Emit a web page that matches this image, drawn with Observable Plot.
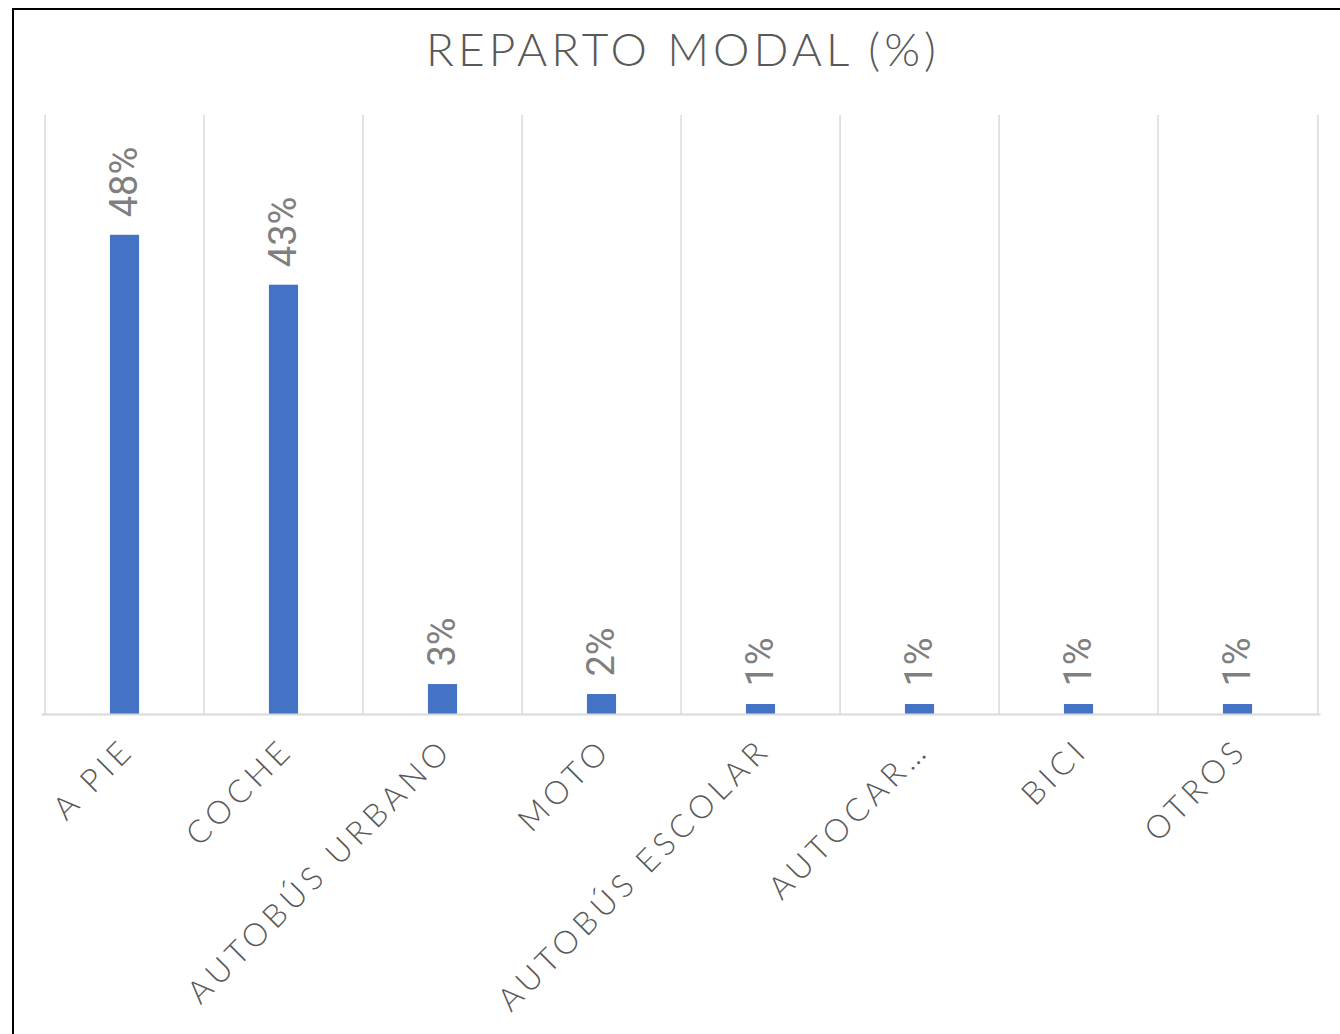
<!DOCTYPE html>
<html>
<head>
<meta charset="utf-8">
<script src="https://cdn.jsdelivr.net/npm/d3@7"></script>
<script src="https://cdn.jsdelivr.net/npm/@observablehq/plot@0.6"></script>
<style>
  html, body { margin: 0; padding: 0; background: #fff; }
  #wrap { position: relative; width: 1340px; height: 1034px; overflow: hidden; }
  #frame { position: absolute; left: 12px; top: 8px; width: 1400px; height: 1100px;
           border-top: 2px solid #000; border-left: 2px solid #000; pointer-events: none; }
  #title { position: absolute; left: 0; width: 1366px; top: 21px; text-align: center;
           font-family: Lato, "Open Sans", sans-serif; font-weight: 300; font-size: 46px;
           letter-spacing: 4px; color: #595959; line-height: 1.2; }
  #chart { position: absolute; left: 0; top: 95px; }
</style>
</head>
<body>
<div id="wrap">
  <div id="title">REPARTO MODAL (%)</div>
  <div id="chart"></div>
  <div id="frame"></div>
</div>
<script>
const categories = ["A PIE", "COCHE", "AUTOBÚS URBANO", "MOTO", "AUTOBÚS ESCOLAR", "AUTOCAR…", "BICI", "OTROS"];
const values = [48, 43, 3, 2, 1, 1, 1, 1];
const valueLabels = ["48%", "43%", "3%", "2%", "1%", "1%", "1%", "1%"];

const data = categories.map((c, i) => ({ category: c, value: values[i], label: valueLabels[i] }));

const W = 1340, H = 939, mL = 41.5, mR = 19.5, mT = 20, mB = 320;
const bw = (W - mL - mR) / categories.length;
const barW = 30;

const chart = Plot.plot({
  width: W,
  height: H,
  marginLeft: mL,
  marginRight: mR,
  marginTop: mT,
  marginBottom: mB,
  style: { background: "transparent", overflow: "visible" },
  x: { domain: categories, padding: 0, label: null },
  y: { domain: [0, 60], axis: null },
  marks: [
    Plot.ruleX(categories, { x: d => d, dx: -bw / 2, y1: 0, y2: 60, stroke: "#d9d9d9", strokeWidth: 1.5 }),
    Plot.ruleX(categories.slice(-1), { x: d => d, dx: bw / 2, y1: 0, y2: 60, stroke: "#d9d9d9", strokeWidth: 1.5 }),
    Plot.barY(data, { x: "category", y: "value", fill: "#4472c4",
      insetLeft: (bw - barW) / 2, insetRight: (bw - barW) / 2 }),
    Plot.ruleY([0], { stroke: "#d9d9d9", strokeWidth: 2 }),
    Plot.text(data, { x: "category", y: "value", text: "label", rotate: -90, textAnchor: "start",
      dy: -18, fill: "#7f7f7f", fontSize: 38, fontFamily: "Roboto, sans-serif" }),
    Plot.axisX({ tickRotate: -45, tickSize: 0, tickPadding: 30, dx: 4, label: null,
      fontSize: 32, fontFamily: "Lato, sans-serif", fontWeight: 300, fill: "#595959",
      textStroke: "none" })
  ]
});
chart.querySelectorAll("g[aria-label='x-axis tick label'] text").forEach(t => t.style.letterSpacing = "5px");
document.getElementById("chart").appendChild(chart);
</script>
</body>
</html>
